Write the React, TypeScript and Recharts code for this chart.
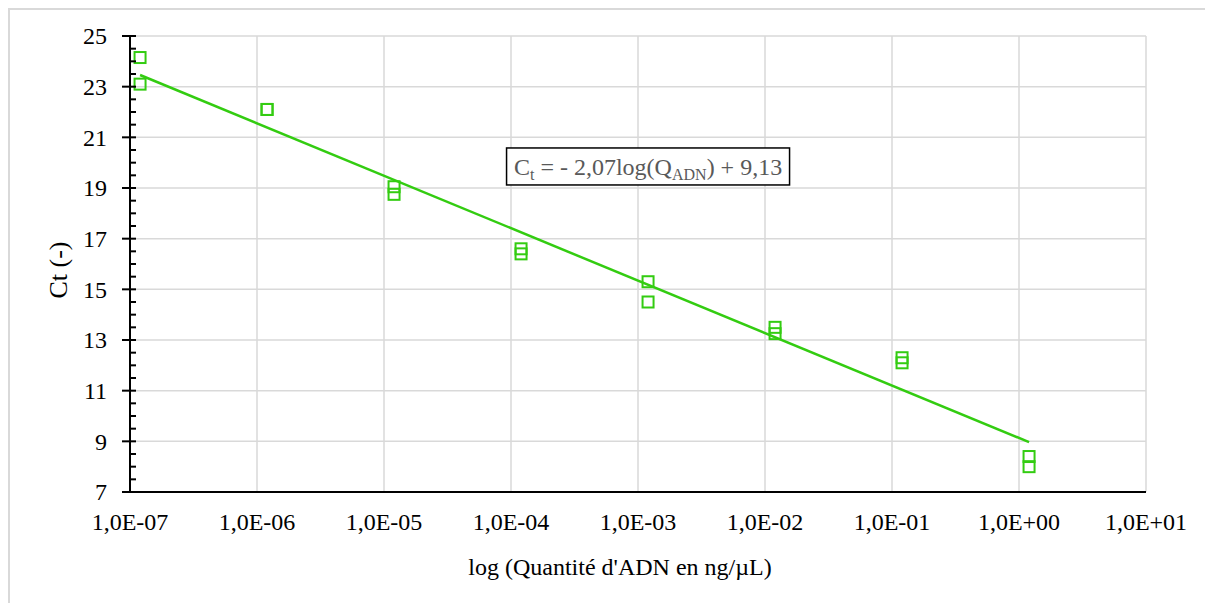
import React from 'react';
import { ScatterChart, Scatter, XAxis, YAxis, CartesianGrid, ReferenceDot, Label } from 'recharts';

const concentrations = [1.2e-7, 1.2e-6, 1.2e-5, 1.2e-4, 1.2e-3, 1.2e-2, 1.2e-1, 1.2];
const ctReplicate1 = [24.15, 22.1, 19.05, 16.6, 15.3, 13.5, 12.3, 8.4];
const ctReplicate2 = [23.1, 22.1, 18.75, 16.4, 14.5, 13.25, 12.1, 8.0];
const trendX = [1.2e-7, 1.2];
const trendY = [23.46, 8.97];

const xTicks = [1e-7, 1e-6, 1e-5, 1e-4, 1e-3, 1e-2, 1e-1, 1, 10];
const xTickLabels = ['1,0E-07', '1,0E-06', '1,0E-05', '1,0E-04', '1,0E-03', '1,0E-02', '1,0E-01', '1,0E+00', '1,0E+01'];
const yMajorTicks = [7, 9, 11, 13, 15, 17, 19, 21, 23, 25];
const yAllTicks = [7, 7.5, 8, 8.5, 9, 9.5, 10, 10.5, 11, 11.5, 12, 12.5, 13, 13.5, 14, 14.5, 15, 15.5, 16, 16.5, 17, 17.5, 18, 18.5, 19, 19.5, 20, 20.5, 21, 21.5, 22, 22.5, 23, 23.5, 24, 24.5, 25];
const eqPosition = { x: 1.2e-3, y: 19.85 };

const GREEN = '#33CC11';
const FONT = '"Liberation Serif", "Times New Roman", serif';

const points = concentrations.flatMap((c, i) => [
  { x: c, y: ctReplicate1[i] },
  { x: c, y: ctReplicate2[i] },
]);
const trend = trendX.map((x, i) => ({ x, y: trendY[i] }));

const SquareShape = (props: any) => {
  const { cx, cy } = props;
  if (cx == null || cy == null) return null;
  const s = 11;
  return <rect x={cx - s / 2} y={cy - s / 2} width={s} height={s} fill="none" stroke={GREEN} strokeWidth={2} />;
};

const YTick = (props: any) => {
  const { x, y, payload } = props;
  const v = payload.value;
  const isMajor = yMajorTicks.includes(v);
  return (
    <g>
      {isMajor ? (
        <>
          <line x1={x - 8} x2={x + 6} y1={y} y2={y} stroke="#000" strokeWidth={2} />
          <text x={x - 23} y={y} dy="0.35em" textAnchor="end" fontFamily={FONT} fontSize={24} fill="#000">
            {v}
          </text>
        </>
      ) : (
        <line x1={x} x2={x + 6} y1={y} y2={y} stroke="#000" strokeWidth={2} />
      )}
    </g>
  );
};

const XTick = (props: any) => {
  const { x, y, payload } = props;
  const idx = xTicks.findIndex((t) => Math.abs(Math.log10(t) - Math.log10(payload.value)) < 1e-6);
  return (
    <text x={x} y={y} dy="0.71em" textAnchor="middle" fontFamily={FONT} fontSize={24} fill="#000">
      {idx >= 0 ? xTickLabels[idx] : ''}
    </text>
  );
};

const EquationBox = (props: any) => {
  const { cx, cy } = props;
  if (cx == null || cy == null) return null;
  const w = 283;
  const h = 37;
  return (
    <g>
      <rect x={cx - w / 2} y={cy - h / 2} width={w} height={h} fill="#fff" stroke="#000" strokeWidth={1.5} />
      <text x={cx} y={cy} dy="0.35em" textAnchor="middle" fontFamily={FONT} fontSize={24} fill="#595959">
        <tspan>C</tspan>
        <tspan fontSize={16} dy="5">t</tspan>
        <tspan dy="-5"> = - 2,07log(Q</tspan>
        <tspan fontSize={16} dy="5">ADN</tspan>
        <tspan dy="-5">) + 9,13</tspan>
      </text>
    </g>
  );
};

export default function App() {
  return (
    <div
      style={{
        position: 'relative',
        width: 1205,
        height: 595,
        boxSizing: 'border-box',
        borderLeft: '2px solid #d9d9d9',
        borderTop: '2px solid #d9d9d9',
        background: '#fff',
      }}
    >
      <div style={{ position: 'absolute', left: -2, top: -2 }}>
        <ScatterChart width={1205} height={595} margin={{ top: 28, right: 67, left: 0, bottom: 31 }}>
          <CartesianGrid
            stroke="#d9d9d9"
            strokeWidth={1.5}
            horizontalValues={yMajorTicks}
            verticalValues={xTicks}
          />
          <XAxis
            dataKey="x"
            type="number"
            scale="log"
            domain={[1e-7, 10]}
            ticks={xTicks}
            allowDataOverflow
            interval={0}
            height={80}
            tickSize={0}
            tickMargin={21}
            tickLine={false}
            axisLine={{ stroke: '#000', strokeWidth: 2 }}
            tick={<XTick />}
          >
            <Label
              content={(p: any) => {
                const vb = p.viewBox || {};
                return (
                  <text
                    x={vb.x + vb.width / 2 - 18}
                    y={vb.y + 83}
                    textAnchor="middle"
                    fontFamily={FONT}
                    fontSize={24}
                    fill="#000"
                  >
                    log (Quantité d'ADN en ng/µL)
                  </text>
                );
              }}
            />
          </XAxis>
          <YAxis
            dataKey="y"
            type="number"
            domain={[7, 25]}
            ticks={yAllTicks}
            interval={0}
            width={122}
            tickSize={0}
            tickMargin={0}
            tickLine={false}
            axisLine={{ stroke: '#000', strokeWidth: 2 }}
            tick={<YTick />}
          >
            <Label
              content={(p: any) => {
                const vb = p.viewBox || {};
                const cx = vb.x + 50;
                const cy = vb.y + vb.height / 2 + 6;
                return (
                  <text
                    x={cx}
                    y={cy}
                    dy="0.35em"
                    textAnchor="middle"
                    transform={`rotate(-90, ${cx}, ${cy})`}
                    fontFamily={FONT}
                    fontSize={26}
                    fill="#000"
                  >
                    Ct (-)
                  </text>
                );
              }}
            />
          </YAxis>
          <Scatter
            data={trend}
            line={{ stroke: GREEN, strokeWidth: 2.5 }}
            shape={() => null}
            isAnimationActive={false}
          />
          <Scatter data={points} shape={<SquareShape />} isAnimationActive={false} />
          <ReferenceDot x={eqPosition.x} y={eqPosition.y} r={0} shape={<EquationBox />} />
        </ScatterChart>
      </div>
    </div>
  );
}
